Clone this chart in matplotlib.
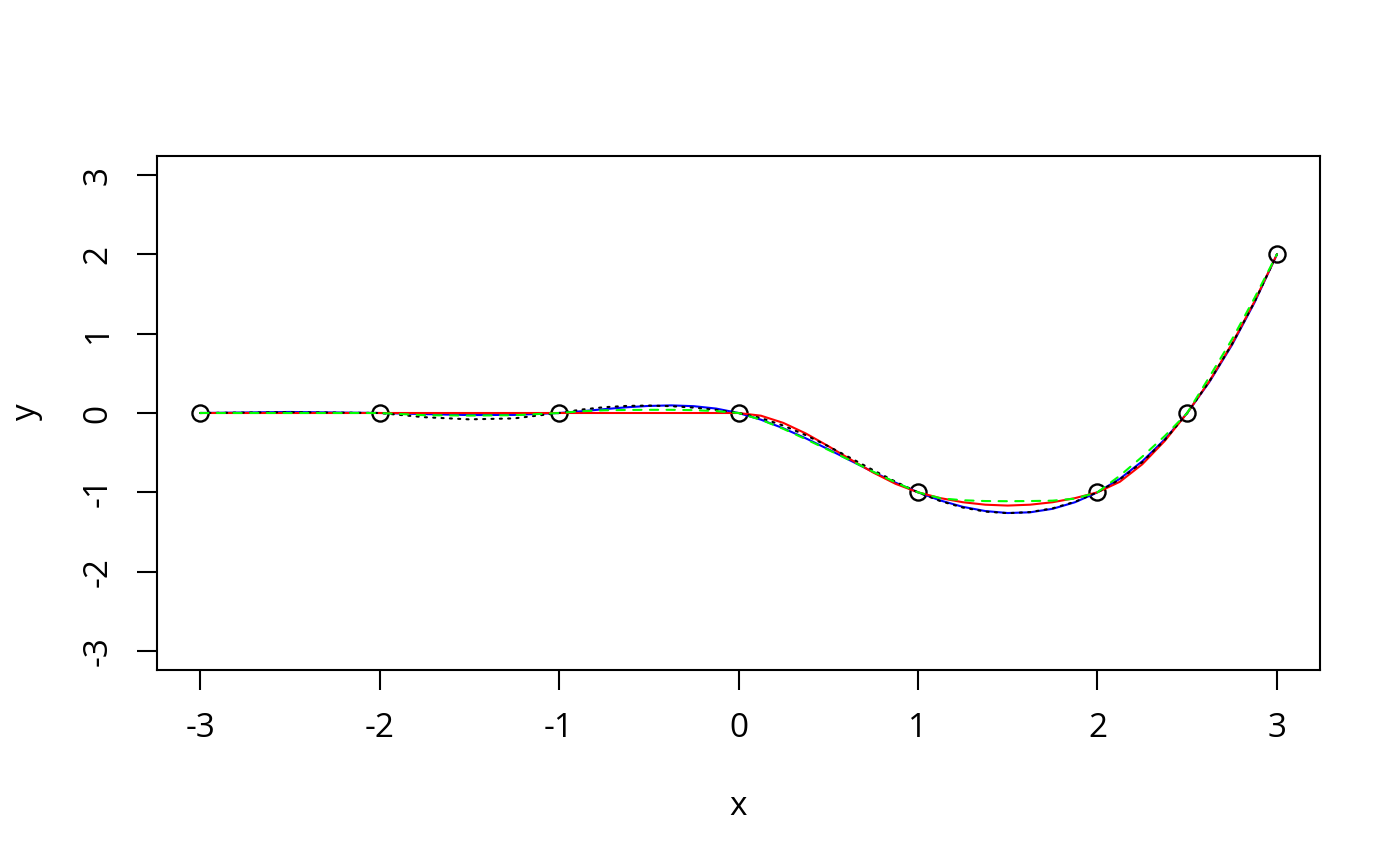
import numpy as np
import matplotlib.pyplot as plt

plt.rcParams['font.family'] = ['Open Sans', 'DejaVu Sans']
plt.rcParams['axes.unicode_minus'] = False

# data points
x_pts = [-3, -2, -1, 0, 1, 2, 2.5, 3]
y_pts = [0, 0, 0, 0, -1, -1, 0, 2]

# curves
x_curve = [-3, -2.5, -2, -1.75, -1.5, -1.25, -1, -0.875, -0.75, -0.625, -0.5, -0.375, -0.25, -0.125,
           0, 0.125, 0.25, 0.375, 0.5, 0.625, 0.75, 0.875, 1, 1.125, 1.25, 1.375, 1.5, 1.625, 1.75, 1.875,
           2, 2.125, 2.25, 2.375, 2.5, 2.625, 2.75, 2.875, 3]

y_blue = [0, 0.013, 0, -0.014, -0.026, -0.024, 0, 0.022, 0.048, 0.072, 0.089, 0.096, 0.086, 0.056,
          0, -0.084, -0.193, -0.319, -0.457, -0.601, -0.743, -0.878, -1, -1.103, -1.183, -1.236, -1.261,
          -1.252, -1.208, -1.125, -1, -0.829, -0.608, -0.333, 0, 0.396, 0.859, 1.392, 2]

y_red = [0, 0, 0, 0, 0, 0, 0, 0, 0, 0, 0, 0, 0, 0,
         0, -0.034, -0.125, -0.258, -0.417, -0.586, -0.75, -0.893, -1, -1.073, -1.125, -1.156, -1.167,
         -1.156, -1.125, -1.073, -1, -0.867, -0.646, -0.352, 0, 0.406, 0.875, 1.406, 2]

y_dot = [0, 0.01, 0, -0.053, -0.08, -0.068, 0, 0.043, 0.073, 0.089, 0.094, 0.086, 0.068, 0.039,
         0, -0.063, -0.159, -0.28, -0.419, -0.568, -0.72, -0.866, -1, -1.111, -1.192, -1.243, -1.263,
         -1.249, -1.202, -1.119, -1, -0.837, -0.619, -0.341, 0, 0.404, 0.869, 1.399, 2]

y_green = [0, 0, 0, -0.028, -0.032, -0.028, 0, 0.022, 0.034, 0.038, 0.04, 0.04, 0.036, 0.024,
           0, -0.085, -0.2, -0.33, -0.465, -0.6, -0.74, -0.875, -1, -1.075, -1.1, -1.11, -1.112,
           -1.11, -1.105, -1.08, -1, -0.79, -0.55, -0.29, 0, 0.46, 0.93, 1.45, 2]

fig = plt.figure(figsize=(7, 4.33), dpi=200)
ax = fig.add_axes([0.11214, 0.22633, 0.83072, 0.59353])

lw = 0.75
ax.plot(x_pts, y_pts, 'o', mfc='none', mec='black', ms=5.8, mew=0.85)
ax.plot(x_curve, y_blue, color='#0000FF', lw=lw, solid_capstyle='round')
ax.plot(x_curve, y_red, color='#FF0000', lw=lw, solid_capstyle='round')
ax.plot(x_curve, y_dot, color='black', lw=lw, linestyle=(0, (1, 3)), dash_capstyle='round')
ax.plot(x_curve, y_green, color='#00FF00', lw=lw, linestyle=(0, (4, 4)), dash_capstyle='round')

ax.set_xlim(-3.24, 3.24)
ax.set_ylim(-3.24, 3.24)
ax.set_xticks([-3, -2, -1, 0, 1, 2, 3])
ax.set_yticks([-3, -2, -1, 0, 1, 2, 3])
ax.tick_params(length=7.2, width=lw, labelsize=12, pad=8)
plt.setp(ax.get_yticklabels(), rotation=90, va='center')
for s in ax.spines.values():
    s.set_linewidth(lw)

ax.set_xlabel('x', fontsize=12, labelpad=16)
ax.set_ylabel('y', fontsize=12, labelpad=14)

fig.savefig('out.png', dpi=200)
